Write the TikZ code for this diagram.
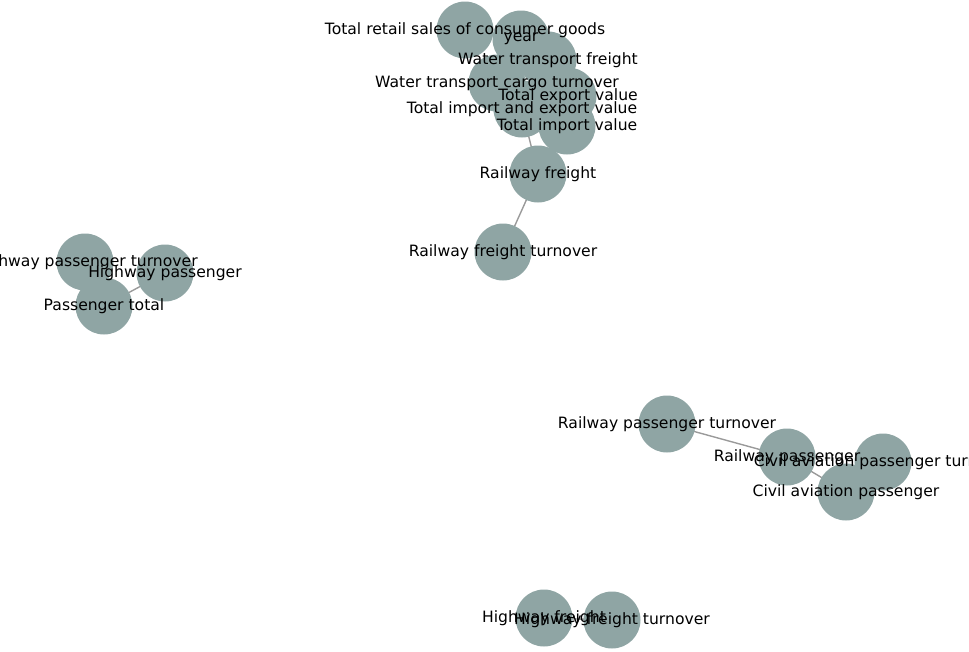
\documentclass[tikz,border=0pt]{standalone}
\usepackage{fontspec}
\setmainfont{DejaVu Sans}
\begin{document}
\begin{tikzpicture}[x=1pt,y=-1pt,
  nd/.style={circle,fill=nodec,minimum size=57pt,inner sep=0pt},
  lb/.style={font=\fontsize{15.6}{18}\selectfont,inner sep=0pt},
  ed/.style={draw=edgec,line width=1.4pt}]
\definecolor{nodec}{HTML}{8FA5A4}
\definecolor{edgec}{HTML}{9A9A9A}
\path[use as bounding box,clip] (0,0) rectangle (969,651);
\foreach \n/\x/\y in {tr/465/30, yr/521/39, wf/548/60, wc/497/83, te/568/96, tie/522/109, ti/567/126, rf/538/174, rft/503/252,
  hpt/85/262, hp/165/273, pt/104/306, rpt/667/424, rp/787/457, capt/883/462, cap/846/492, hf/544/618, hft/612/620}
  \coordinate (\n) at (\x,\y);
\foreach \a/\b in {tr/yr, yr/wf, yr/wc, wf/te, wc/tie, te/tie, tie/ti, tie/rf, rf/rft, hpt/pt, hp/pt, rpt/rp, rp/cap, cap/capt, hf/hft}
  \draw[ed] (\a) -- (\b);
\foreach \n in {tr,yr,wf,wc,te,tie,ti,rf,rft,hpt,hp,pt,rpt,rp,capt,cap,hf,hft}
  \node[nd] (n\n) at (\n) {};
\node[lb] (ltr) at (tr) {Total retail sales of consumer goods};
\node[lb] (lyr) at (yr) {year};
\node[lb] (lwf) at (wf) {Water transport freight};
\node[lb] (lwc) at (wc) {Water transport cargo turnover};
\node[lb] (lte) at (te) {Total export value};
\node[lb] (ltie) at (tie) {Total import and export value};
\node[lb] (lti) at (ti) {Total import value};
\node[lb] (lrf) at (rf) {Railway freight};
\node[lb] (lrft) at (rft) {Railway freight turnover};
\node[lb] (lhpt) at (hpt) {Highway passenger turnover};
\node[lb] (lhp) at (hp) {Highway passenger};
\node[lb] (lpt) at (pt) {Passenger total};
\node[lb] (lrpt) at (rpt) {Railway passenger turnover};
\node[lb] (lrp) at (rp) {Railway passenger};
\node[lb] (lcapt) at (capt) {Civil aviation passenger turnover};
\node[lb] (lcap) at (cap) {Civil aviation passenger};
\node[lb] (lhf) at (hf) {Highway freight};
\node[lb] (lhft) at (hft) {Highway freight turnover};
\end{tikzpicture}
\end{document}
